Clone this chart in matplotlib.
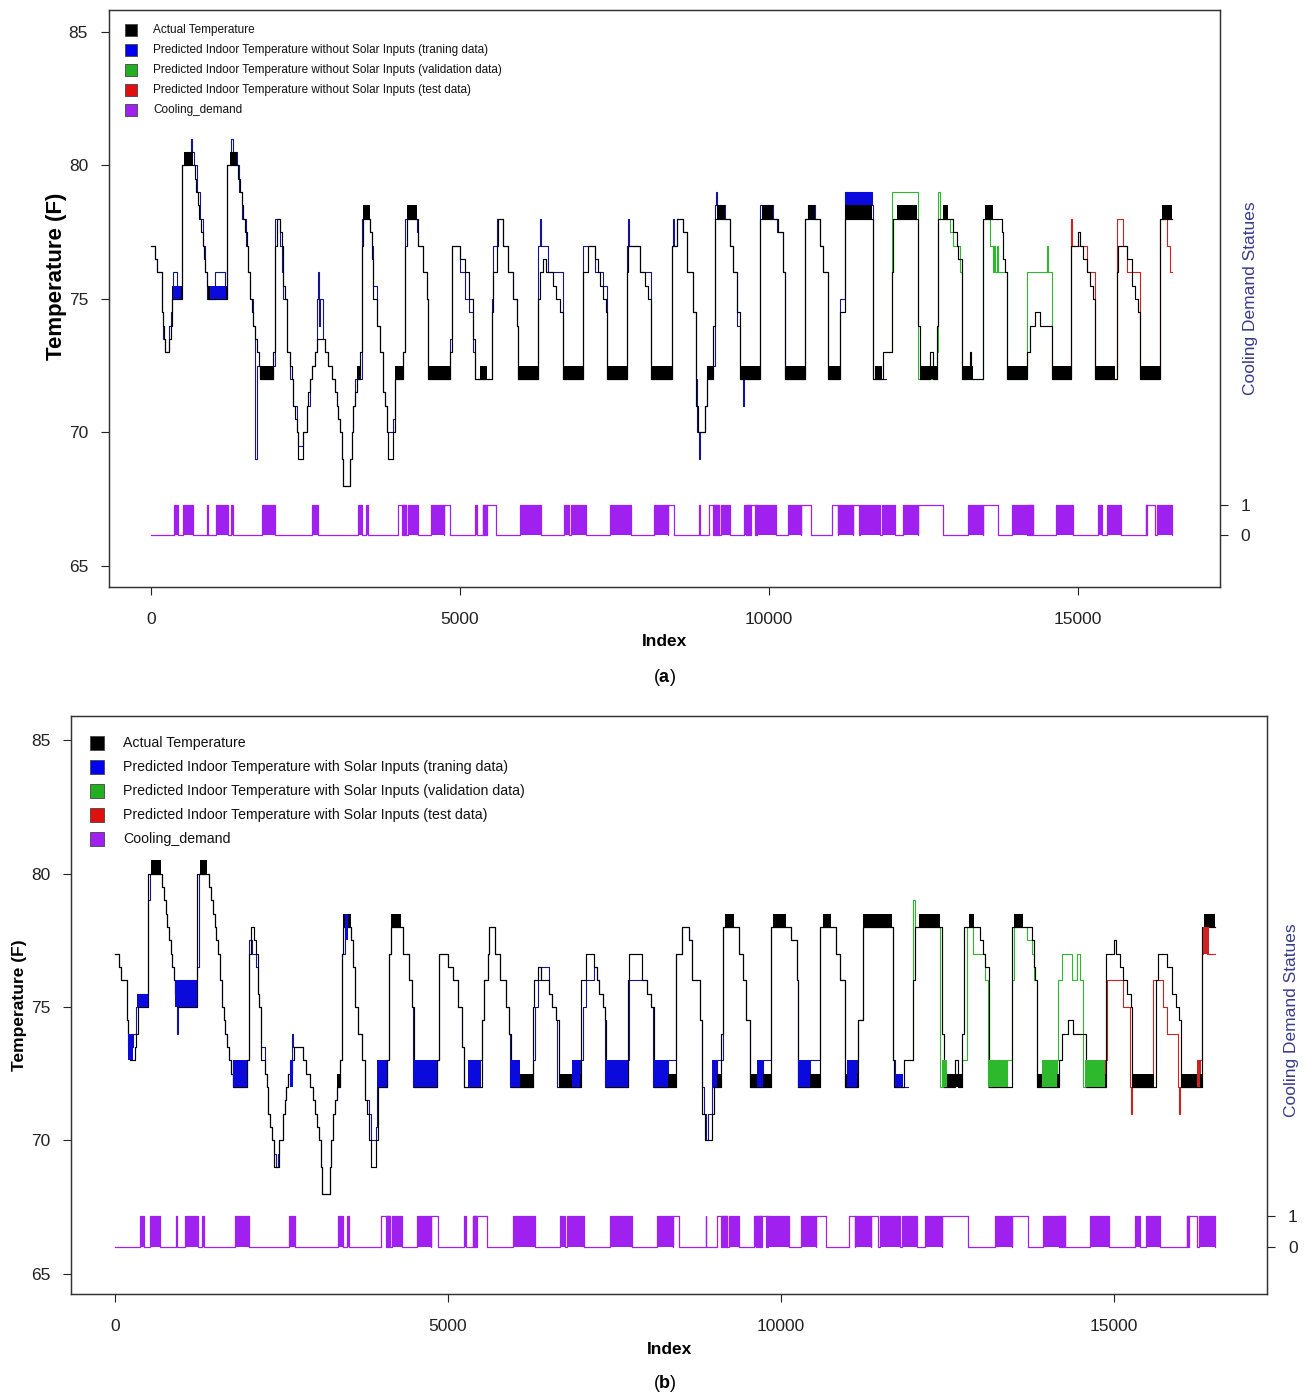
import matplotlib
matplotlib.use('Agg')
import matplotlib.pyplot as plt

plt.rcParams['font.family'] = ['Liberation Sans', 'DejaVu Sans']
plt.rcParams['mathtext.fontset'] = 'custom'
plt.rcParams['mathtext.rm'] = 'Liberation Sans'
plt.rcParams['mathtext.bf'] = 'Liberation Sans:bold'

# ---- data: step series as (index, temperature) ----
END = 16516
VAL_START = 11900
TEST_START = 14860

actual = [
    (0, 77), (65, 76.5), (92, 76), (173, 74.5), (189, 74), (210, 73.5), (227, 73), (297, 73.5), (318, 74), (345, 75),
    (496, 80), (685, 80), (710, 79.5), (735, 79), (760, 78.5), (785, 78), (810, 77.5), (835, 77), (860, 76.5), (880, 76),
    (901, 75.5), (928, 75),
    (1235, 80), (1386, 80), (1413, 79.5), (1440, 79), (1467, 78.5), (1494, 78), (1521, 77.5), (1548, 77), (1575, 76),
    (1602, 75), (1630, 74.5), (1656, 74), (1683, 73.5), (1710, 73), (1740, 72.5), (1764, 72),
    (1980, 73), (2007, 77), (2034, 78), (2087, 77.5), (2114, 77), (2141, 75.5), (2168, 75), (2195, 73), (2249, 72.5),
    (2276, 72), (2303, 71), (2330, 70.5), (2357, 70), (2384, 69), (2465, 70), (2519, 71), (2546, 71.5), (2573, 72),
    (2600, 72.5), (2654, 73), (2681, 73.5), (2816, 73), (2870, 72.5), (2924, 72), (2978, 71.5), (3005, 71), (3031, 70.5),
    (3058, 70), (3085, 69), (3112, 68), (3220, 69), (3247, 70), (3274, 71), (3301, 71.5), (3328, 72),
    (3382, 73), (3409, 77), (3425, 78), (3544, 77.5), (3571, 76.5), (3598, 75), (3652, 74), (3706, 73), (3760, 71.5),
    (3787, 71), (3814, 70), (3840, 69), (3921, 70), (3948, 72),
    (4083, 73), (4110, 77), (4137, 78), (4299, 78), (4326, 77), (4407, 76), (4461, 75), (4488, 72),
    (4838, 73), (4865, 77), (5000, 76.5), (5081, 76), (5150, 75), (5216, 73.5), (5243, 72),
    (5513, 74.5), (5540, 76), (5594, 77), (5621, 78), (5702, 77), (5783, 76), (5863, 75), (5917, 74), (5944, 72),
    (6268, 75), (6295, 76), (6349, 76.5), (6400, 76), (6511, 75.5), (6554, 75), (6618, 74.5), (6662, 72),
    (6996, 76), (7077, 77), (7185, 76.5), (7239, 76), (7266, 75.5), (7320, 75), (7360, 74.5), (7374, 72),
    (7697, 76), (7724, 77), (7913, 76), (7994, 75.5), (8048, 75), (8086, 72),
    (8426, 77), (8506, 78), (8614, 77.5), (8668, 76), (8776, 74.5), (8814, 71), (8857, 70), (8965, 71), (8992, 72),
    (9100, 74), (9127, 78), (9288, 78), (9369, 77), (9423, 76), (9477, 74.5), (9531, 72),
    (9855, 78), (10125, 78), (10152, 77.5), (10233, 76), (10260, 72),
    (10583, 78), (10772, 78), (10826, 77), (10880, 76), (10961, 72),
    (11149, 74.5), (11230, 78), (11678, 73), (11689, 72),
    (11850, 73), (11985, 76), (12012, 78), (12390, 78), (12417, 74), (12444, 72), (12606, 73), (12660, 72),
    (12724, 74), (12740, 78), (12929, 78), (12983, 77.5), (13037, 77), (13064, 76.5), (13118, 72), (13253, 73), (13270, 72),
    (13469, 78), (13630, 78), (13765, 77.5), (13792, 76.5), (13819, 76), (13846, 72),
    (14170, 73), (14224, 74), (14305, 74.5), (14386, 74), (14574, 72),
    (14882, 77), (15006, 77.5), (15030, 77), (15087, 76.5), (15141, 76), (15195, 75.5), (15249, 75), (15276, 72),
    (15626, 76), (15653, 77), (15734, 77), (15788, 76.5), (15869, 75.5), (15923, 75), (15977, 74.5), (16004, 72),
    (16327, 78),
]

# blocks where the actual temperature flips quickly between two levels: (start, end, low, high)
actual_bands = [
    (345, 496, 75, 75.5), (539, 685, 80, 80.5), (928, 1224, 75, 75.5), (1278, 1386, 80, 80.5), (1764, 1980, 72, 72.5),
    (3328, 3382, 72, 72.5), (3425, 3544, 78, 78.5), (3948, 4083, 72, 72.5), (4137, 4299, 78, 78.5), (4488, 4838, 72, 72.5),
    (5324, 5432, 72, 72.5), (5944, 6268, 72, 72.5), (6662, 6996, 72, 72.5), (7374, 7697, 72, 72.5), (8086, 8426, 72, 72.5),
    (8992, 9100, 72, 72.5), (9154, 9288, 78, 78.5), (9531, 9855, 72, 72.5), (9882, 10071, 78, 78.5), (10260, 10583, 72, 72.5),
    (10637, 10745, 78, 78.5), (10961, 11149, 72, 72.5), (11230, 11662, 78, 78.5), (11716, 11823, 72, 72.5),
    (12066, 12390, 78, 78.5), (12444, 12724, 72, 72.5), (12821, 12902, 78, 78.5), (13145, 13307, 72, 72.5),
    (13496, 13630, 78, 78.5), (13846, 14170, 72, 72.5), (14574, 14882, 72, 72.5), (15276, 15599, 72, 72.5),
    (16004, 16327, 72, 72.5), (16354, 16516, 78, 78.5),
]

# (a) prediction without solar inputs
pred_a = [
    (0, 77), (65, 76.5), (92, 76), (173, 74.5), (189, 73.5), (227, 73), (297, 74), (318, 74.5), (345, 75), (360, 76),
    (420, 75.5), (496, 80), (560, 80.5), (640, 81), (660, 80.5), (700, 80), (740, 79), (790, 78), (840, 77), (880, 76),
    (901, 75), (1036, 76), (1197, 75),
    (1235, 80), (1300, 81), (1330, 80.5), (1386, 80), (1430, 79), (1480, 78), (1530, 77), (1575, 76), (1610, 75),
    (1650, 74), (1683, 73), (1690, 69), (1710, 72.5), (1764, 72),
    (1980, 72.5), (2007, 78), (2087, 77), (2114, 76), (2141, 75), (2195, 73), (2249, 72), (2303, 71), (2357, 70),
    (2384, 69.5), (2440, 69.5), (2465, 70), (2519, 71), (2573, 72), (2600, 72.5), (2654, 73), (2681, 75), (2700, 76),
    (2720, 74), (2740, 75), (2790, 73.5), (2816, 73), (2870, 72.5), (2924, 72), (2978, 71.5), (3005, 71), (3031, 70.5),
    (3058, 70), (3085, 69), (3112, 68), (3220, 69), (3247, 70), (3274, 71), (3301, 72),
    (3409, 78), (3440, 78.5), (3500, 78), (3544, 77.5), (3571, 77), (3598, 75.5), (3652, 74), (3706, 73), (3760, 71.5),
    (3787, 71), (3814, 70), (3921, 70.5), (3948, 72),
    (4083, 73), (4110, 78), (4299, 77.5), (4326, 77), (4407, 76), (4461, 75), (4488, 72),
    (4838, 73.5), (4865, 77), (5000, 76), (5081, 75), (5150, 74.5), (5216, 73), (5243, 72),
    (5513, 75), (5540, 77), (5594, 78), (5700, 77), (5783, 76), (5863, 75), (5917, 74), (5944, 72),
    (6268, 77), (6295, 78), (6310, 77), (6430, 76), (6662, 72),
    (6996, 77), (7185, 76), (7320, 75.5), (7374, 72),
    (7697, 77), (7724, 78), (7740, 77), (7913, 76), (8086, 72),
    (8426, 77), (8442, 78), (8460, 77), (8506, 78), (8614, 77.5), (8668, 76), (8776, 74.5), (8814, 72), (8830, 70),
    (8870, 69), (8890, 70), (8965, 71), (8992, 72.5),
    (9127, 78.5), (9140, 79), (9160, 78.5), (9288, 78), (9369, 77), (9423, 76), (9477, 74), (9531, 72), (9580, 71),
    (9600, 72),
    (9855, 78.5), (10071, 78), (10125, 77.5), (10233, 76), (10260, 72),
    (10583, 78), (10637, 78.5), (10745, 78), (10826, 77), (10880, 76), (10961, 72),
    (11149, 75), (11230, 79), (11662, 78.5), (11689, 72),
    (11900, 73), (11986, 79), (12417, 72), (12724, 73), (12740, 79), (12767, 78), (12929, 77.5), (12983, 77),
    (13091, 76), (13118, 72),
    (13469, 78), (13576, 77), (13630, 76), (13640, 77), (13660, 76), (13684, 77), (13700, 76), (13846, 72),
    (14170, 76), (14493, 77), (14510, 76), (14574, 72),
    (14882, 78), (14898, 77), (15141, 76), (15276, 72),
    (15626, 78), (15734, 77), (15788, 76), (16004, 72),
    (16327, 78), (16435, 77), (16490, 76),
]
pred_a_bands = [(360, 480, 75, 75.5), (950, 1220, 75, 75.5), (11230, 11662, 78.5, 79)]

# (b) prediction with solar inputs
pred_b = [
    (0, 77), (65, 76.5), (92, 76), (173, 74.5), (200, 73.5), (275, 74), (318, 75), (345, 75.5), (496, 79), (526, 80),
    (700, 79.5), (735, 79), (760, 78.5), (785, 78), (810, 77.5), (835, 77), (860, 76.5), (880, 76), (901, 75.5),
    (930, 74), (950, 76), (1226, 76.5), (1260, 80), (1386, 80), (1413, 79.5), (1440, 79), (1467, 78.5), (1494, 78),
    (1521, 77.5), (1548, 77), (1575, 76), (1602, 75), (1630, 74.5), (1656, 74), (1683, 73.5), (1710, 73), (1740, 72.5),
    (1777, 72),
    (1980, 73), (2007, 77.5), (2060, 77), (2114, 76.5), (2141, 75.5), (2168, 75), (2195, 73.5), (2249, 72.5), (2276, 72),
    (2303, 71), (2330, 70.5), (2357, 70), (2384, 69.5), (2410, 69), (2440, 69.5), (2465, 70), (2519, 71), (2546, 71.5),
    (2573, 72), (2600, 72.5), (2628, 73), (2650, 74), (2678, 73.5), (2816, 73), (2870, 72.5), (2924, 72), (2978, 71.5),
    (3005, 71), (3031, 70.5), (3058, 70), (3085, 69), (3112, 68), (3220, 69), (3247, 70), (3274, 71), (3301, 71.5),
    (3328, 72),
    (3382, 73), (3409, 77), (3454, 78.5), (3504, 78), (3544, 77.5), (3571, 76.5), (3598, 75), (3652, 74), (3706, 73),
    (3760, 71.5), (3814, 71), (3840, 70), (3921, 70.5), (3930, 72),
    (4083, 73), (4110, 77), (4137, 78), (4299, 78), (4326, 77), (4407, 76), (4461, 75), (4480, 72),
    (4838, 73), (4865, 77), (5000, 76.5), (5081, 76), (5150, 75), (5216, 73.5), (5243, 72),
    (5481, 73), (5513, 74.5), (5540, 76), (5594, 77), (5621, 78), (5702, 77), (5783, 76), (5863, 75), (5917, 74),
    (5931, 72),
    (6282, 73), (6300, 75), (6349, 76), (6400, 76.5), (6511, 75.5), (6554, 75), (6618, 74.5), (6632, 72),
    (6982, 73), (7020, 75), (7077, 76), (7185, 76.5), (7239, 76), (7266, 75.5), (7320, 75), (7358, 72),
    (7708, 73), (7724, 76), (7913, 76), (7994, 75.5), (8048, 75), (8083, 72),
    (8308, 73), (8426, 77), (8506, 78), (8614, 77.5), (8668, 76), (8776, 74.5), (8814, 72), (8840, 71), (8870, 70),
    (8900, 71), (8959, 72),
    (9034, 73), (9127, 78), (9288, 78), (9369, 77), (9423, 76), (9477, 74.5), (9531, 72),
    (9734, 73), (9855, 78), (10125, 78), (10152, 77.5), (10233, 76), (10260, 72),
    (10435, 73), (10583, 78), (10772, 78), (10826, 77), (10880, 76), (10961, 72),
    (11135, 73), (11149, 74.5), (11230, 78), (11678, 73), (11711, 72),
    (11900, 73), (11987, 79), (12012, 78), (12387, 78), (12390, 72), (12487, 72.5), (12724, 73), (12787, 78),
    (12887, 77), (12983, 77), (13064, 76), (13113, 72),
    (13388, 73), (13463, 76), (13500, 78), (13663, 78), (13700, 77.5), (13765, 77), (13792, 76), (13839, 72),
    (14139, 73), (14164, 76), (14214, 77), (14364, 76), (14439, 77), (14489, 76), (14539, 72),
    (14864, 73), (14890, 76), (15140, 75), (15240, 72), (15255, 71), (15265, 72),
    (15590, 76), (15740, 75), (15790, 74), (15965, 72), (15975, 71), (15990, 72),
    (16290, 73), (16316, 77), (16340, 78), (16400, 77),
]
pred_b_bands = [
    (200, 275, 73, 74), (335, 500, 75, 75.5), (900, 1226, 75, 76), (1777, 1977, 72, 73), (2628, 2678, 72, 73),
    (3454, 3504, 77.5, 78.5), (3930, 4080, 72, 73), (4480, 4830, 72, 73), (5306, 5481, 72, 73), (5931, 6082, 72, 73),
    (6857, 6982, 72, 73), (7358, 7708, 72, 73), (8083, 8308, 72, 73), (8959, 9034, 72, 73), (9634, 9734, 72, 73),
    (10260, 10435, 72, 73), (10985, 11135, 72, 73), (11711, 11836, 72, 72.5),
    (12412, 12487, 72, 73), (13113, 13388, 72, 73), (13920, 14139, 72, 73), (14564, 14864, 72, 73),
    (16240, 16290, 72, 73), (16340, 16420, 77, 78),
]

# cooling demand: dense on/off blocks (drawn filled) and plain "on" stretches
cool_dense = [
    (370, 432), (525, 674), (909, 928), (1045, 1250), (1299, 1330), (1795, 2005), (2612, 2705), (3355, 3417),
    (3479, 3510), (4067, 4129), (4160, 4315), (4532, 4749), (5244, 5275), (5368, 5430), (5975, 6309), (6687, 6761),
    (6792, 7040), (7430, 7765), (8143, 8372), (8867, 8879), (9096, 9189), (9220, 9375), (9591, 9715), (9777, 10118),
    (10303, 10520), (11109, 11356), (11480, 11790), (11821, 12038), (12161, 12409), (13214, 13462), (13927, 14267),
    (14639, 14917), (15320, 15382), (15475, 15691), (16094, 16125), (16280, 16516),
]
cool_on = [
    (3993, 4129), (4749, 4842), (5368, 5585), (8372, 8465), (9034, 9189), (9622, 9808), (10520, 10675),
    (11016, 11109), (11356, 11449), (12409, 12812), (13462, 13710), (14174, 14267), (16094, 16249),
]

C_TRAIN_LINE = '#141490'
C_TRAIN = '#0A0ADC'
C_VAL = '#2DB82D'
C_TEST = '#D02020'
C_COOL = '#A020F0'


def step(ax, pts, end, **kw):
    xs = [p[0] for p in pts] + [end]
    ys = [p[1] for p in pts] + [pts[-1][1]]
    ax.step(xs, ys, where='post', **kw)


def segment(pts, a, b):
    before = [p for p in pts if p[0] <= a]
    inside = [p for p in pts if a < p[0] < b]
    start = [(a, before[-1][1])] if before else []
    return start + inside


def bands(ax, blocks, color, z):
    for s, e, lo, hi in blocks:
        ax.fill_between([s, e], [lo, lo], [hi, hi], color=color, lw=0, zorder=z)


def band_color(s):
    if s < VAL_START:
        return C_TRAIN
    if s < TEST_START:
        return C_VAL
    return C_TEST


def draw_panel(ax, pred, pred_bands, labels, leg_fs, leg_ms, leg_x, leg_tx, leg_y, leg_dy,
               xlim, ylim, ylim2, lab_x2, lab_y2):
    for a, b, c in [(0, VAL_START, C_TRAIN_LINE), (VAL_START, TEST_START, C_VAL), (TEST_START, END, C_TEST)]:
        step(ax, segment(pred, a, b), b, color=c, lw=0.8, zorder=3)
    step(ax, actual, END, color='black', lw=0.85, zorder=4)
    bands(ax, actual_bands, 'black', 4)
    for blk in pred_bands:
        bands(ax, [blk], band_color(blk[0]), 5)

    ax.set_xlim(*xlim)
    ax.set_ylim(*ylim)
    ax.set_xticks([0, 5000, 10000, 15000])
    ax.set_yticks([65, 70, 75, 80, 85])
    ax.tick_params(axis='x', direction='out', length=6, width=0.8, pad=12,
                   labelsize=12.5, colors='#222222')
    ax.tick_params(axis='y', direction='out', length=6, width=0.8, pad=9,
                   labelsize=12.5, colors='#222222')
    ax.set_xlabel('Index', fontsize=12.5, fontweight='bold')
    for sp in ax.spines.values():
        sp.set_color('#333333')
        sp.set_linewidth(0.9)

    # cooling demand on its own right-hand scale
    ax2 = ax.twinx()
    merged = sorted([(s, e) for s, e in cool_dense] + [(s, e) for s, e in cool_on])
    xs, ys = [0], [0]
    for s, e in merged:
        xs += [s, e]
        ys += [1, 0]
    xs.append(END)
    ys.append(0)
    ax2.step(xs, ys, where='post', color=C_COOL, lw=0.9)
    for s, e in cool_dense:
        ax2.fill_between([s, e], [0, 0], [1, 1], color=C_COOL, lw=0)
    ax2.set_ylim(*ylim2)
    ax2.set_yticks([0, 1])
    ax2.tick_params(axis='y', direction='out', length=6, width=0.8, pad=9,
                    labelsize=12.5, colors='#222222')
    ax2.set_ylabel('Cooling Demand Statues', fontsize=12.5, color='#3A3A8C')
    ax2.yaxis.set_label_coords(lab_x2, lab_y2)
    for sp in ax2.spines.values():
        sp.set_color('#333333')
        sp.set_linewidth(0.9)

    colors = ['black', '#0000EE', '#22B022', '#E01010', C_COOL]
    for i, (lab, c) in enumerate(zip(labels, colors)):
        y = leg_y - i * leg_dy
        ax.plot([leg_x], [y], marker='s', ms=leg_ms, mfc=c, mec='#444444', mew=0.6,
                transform=ax.transAxes, clip_on=False, zorder=6)
        ax.text(leg_tx, y, lab, transform=ax.transAxes, fontsize=leg_fs,
                va='center', ha='left', color='#111111', zorder=6)
    return ax2


fig = plt.figure(figsize=(13.08, 13.96), dpi=100)
ax_a = fig.add_axes([0.0833, 0.5795, 0.8494, 0.4133])
ax_b = fig.add_axes([0.0543, 0.0731, 0.9144, 0.4140])

labels_a = ['Actual Temperature',
            'Predicted Indoor Temperature without Solar Inputs (traning data)',
            'Predicted Indoor Temperature without Solar Inputs (validation data)',
            'Predicted Indoor Temperature without Solar Inputs (test data)',
            'Cooling_demand']
labels_b = ['Actual Temperature',
            'Predicted Indoor Temperature with Solar Inputs (traning data)',
            'Predicted Indoor Temperature with Solar Inputs (validation data)',
            'Predicted Indoor Temperature with Solar Inputs (test data)',
            'Cooling_demand']

draw_panel(ax_a, pred_a, pred_a_bands, labels_a, 8.5, 8.5, 0.0198, 0.0396, 0.9653, 0.0347,
           (-680, 17298), (64.21, 85.82), (-1.741, 17.55), 1.021, 0.5)
draw_panel(ax_b, pred_b, pred_b_bands, labels_b, 10.2, 10, 0.0217, 0.0435, 0.9533, 0.0415,
           (-661, 17297), (64.25, 85.9), (-1.517, 17.15), 1.014, 0.474)

ax_a.set_ylabel('Temperature (F)', fontsize=16, fontweight='bold')
ax_a.yaxis.set_label_coords(-0.038, 0.539)
ax_a.xaxis.set_label_coords(0.5, -0.082)
ax_b.set_ylabel('Temperature (F)', fontsize=12.5, fontweight='bold')
ax_b.yaxis.set_label_coords(-0.037, 0.5)
ax_b.xaxis.set_label_coords(0.5, -0.084)

fig.text(0.508, 0.515, r'($\mathbf{a}$)', ha='center', va='center', fontsize=13)
fig.text(0.508, 0.0093, r'($\mathbf{b}$)', ha='center', va='center', fontsize=13)

fig.savefig('out.png', dpi=100)
